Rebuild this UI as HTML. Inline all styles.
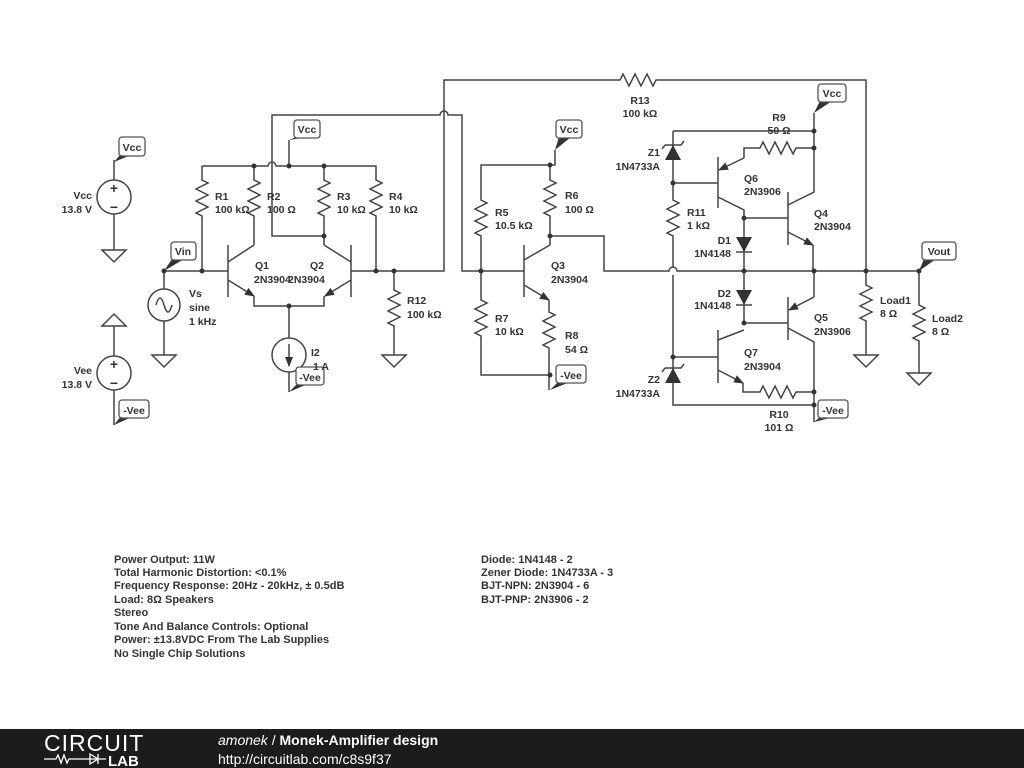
<!DOCTYPE html>
<html><head><meta charset="utf-8"><style>
html,body{margin:0;padding:0;background:#fff;}
svg{display:block;}
text{font-family:"Liberation Sans",sans-serif;font-weight:bold;font-size:10.5px;fill:#333;}
.w{fill:none;stroke:#444;stroke-width:1.5;}
.f{fill:#333;}
.lb{fill:#fff;stroke:#555;stroke-width:1.3;}
.n{font-size:11px;font-weight:bold;}
</style></head><body>
<svg width="1024" height="768" viewBox="0 0 1024 768" xmlns="http://www.w3.org/2000/svg">
<defs>
<marker id="ar" markerWidth="10" markerHeight="8" refX="9" refY="4" orient="auto" markerUnits="userSpaceOnUse"><path d="M0,0 L10,4 L0,8 z" fill="#333"/></marker>
</defs>
<g class="w">
<path d="M114,160 V180 M114,214 V250"/>
<circle cx="114" cy="197" r="17"/>
<path d="M102,250 H126 L114,262 Z"/>
<path d="M102,326 H126 L114,314 Z M114,326 V356 M114,390 V425"/>
<circle cx="114" cy="373" r="17"/>
<circle cx="164" cy="305" r="16"/>
<path d="M164,271 V289 M164,321 V355 M152,355 H176 L164,367 Z"/>
<path d="M156,305 q4,-14 8,0 t8,0"/>
<path d="M164,271 H228"/>
<path d="M202,166 V180 l6,3 l-12,6 l12,6 l-12,6 l12,6 l-12,6 l6,3 V271"/>
<path d="M202,166 H268 a4,4 0 0 1 8,0 H376 V180 l6,3 l-12,6 l12,6 l-12,6 l12,6 l-12,6 l6,3 V271"/>
<path d="M254,166 V180 l6,3 l-12,6 l12,6 l-12,6 l12,6 l-12,6 l6,3 V245"/>
<path d="M324,166 V180 l6,3 l-12,6 l12,6 l-12,6 l12,6 l-12,6 l6,3 V245"/>
<path d="M289,140 V166"/>
<path d="M272,166 V236 H324 M272,166 V115 H440 a4,4 0 0 1 8,0 H462 V271 H524"/>
<path d="M228,245 V297 M228,262 L254,245"/>
<path d="M228,280 L254,296" marker-end="url(#ar)"/>
<path d="M254,296 V306 H324 V296"/>
<path d="M351,245 V297 M351,262 L324,245"/>
<path d="M351,280 L325,296" marker-end="url(#ar)"/>
<path d="M351,271 H444 V80 H620 l3,-6 l6,12 l6,-12 l6,12 l6,-12 l6,12 l3,-6 H866 V271"/>
<path d="M289,306 V338 M289,372 V392"/>
<circle cx="289" cy="355" r="17"/>
<path d="M289,344 V366" marker-end="url(#ar)"/>
<path d="M394,271 V290 l6,3 l-12,6 l12,6 l-12,6 l12,6 l-12,6 l6,3 V355 M382,355 H406 L394,367 Z"/>
<path d="M555,150 V165 H481 V200 l6,3 l-12,6 l12,6 l-12,6 l12,6 l-12,6 l6,3 V300 l6,3 l-12,6 l12,6 l-12,6 l12,6 l-12,6 l6,3 V375 H550"/>
<path d="M550,165 V180 l6,3 l-12,6 l12,6 l-12,6 l12,6 l-12,6 l6,3 V245"/>
<path d="M524,245 V297 M524,260 L550,245"/>
<path d="M524,285 L549,300" marker-end="url(#ar)"/>
<path d="M549,300 V312 l6,3 l-12,6 l12,6 l-12,6 l12,6 l-12,6 l6,3 V390"/>
<path d="M550,236 H604 V271 H669 a4,4 0 0 1 8,0 H919"/>
<path d="M673,131 H814 M814,113 V192 L788,205 M788,192 V245"/>
<path d="M788,232 L813,245" marker-end="url(#ar)"/>
<path d="M813,245 V271"/>
<path d="M744,158 V148 H760 l3,-6 l6,12 l6,-12 l6,12 l6,-12 l6,12 l3,-6 H814"/>
<path d="M744,158 L719,170" marker-end="url(#ar)"/>
<path d="M718,157 V208 M718,197 L744,210 V323 M744,218 H788"/>
<path d="M673,131 V200 l6,3 l-12,6 l12,6 l-12,6 l12,6 l-12,6 l6,3 V267 M673,275 V405 H814"/>
<path d="M673,183 H718 M673,357 H718"/>
<path d="M736,252 H752 M736,305 H752 M744,323 H788"/>
<path d="M788,297 V340"/>
<path d="M814,271 V297"/>
<path d="M814,297 L789,310" marker-end="url(#ar)"/>
<path d="M788,328 L814,342 V422"/>
<path d="M718,330 V383 M718,340 L744,330"/>
<path d="M718,370 L743,383" marker-end="url(#ar)"/>
<path d="M743,383 V392 H760 l3,-6 l6,12 l6,-12 l6,12 l6,-12 l6,12 l3,-6 H814"/>
<path d="M665,145 H681 l3,-4 M665,145 l-3,4"/>
<path d="M665,368 H681 l3,-4 M665,368 l-3,4"/>
<path d="M866,271 V285 l6,3 l-12,6 l12,6 l-12,6 l12,6 l-12,6 l6,3 V355 M854,355 H878 L866,367 Z"/>
<path d="M919,271 V305 l6,3 l-12,6 l12,6 l-12,6 l12,6 l-12,6 l6,3 V373 M907,373 H931 L919,385 Z"/>
</g>
<g class="f">
<polygon points="665,160 681,160 673,145"/>
<polygon points="665,383 681,383 673,368"/>
<polygon points="736,237 752,237 744,252"/>
<polygon points="736,290 752,290 744,305"/>
<circle cx="164" cy="271" r="2.5"/><circle cx="202" cy="271" r="2.5"/><circle cx="376" cy="271" r="2.5"/><circle cx="394" cy="271" r="2.5"/>
<circle cx="254" cy="166" r="2.5"/><circle cx="289" cy="166" r="2.5"/><circle cx="324" cy="166" r="2.5"/><circle cx="324" cy="236" r="2.5"/><circle cx="289" cy="306" r="2.5"/>
<circle cx="550" cy="165" r="2.5"/><circle cx="550" cy="236" r="2.5"/><circle cx="481" cy="271" r="2.5"/><circle cx="550" cy="375" r="2.5"/>
<circle cx="814" cy="131" r="2.5"/><circle cx="814" cy="148" r="2.5"/><circle cx="673" cy="183" r="2.5"/><circle cx="744" cy="218" r="2.5"/><circle cx="744" cy="271" r="2.5"/><circle cx="744" cy="323" r="2.5"/><circle cx="673" cy="357" r="2.5"/><circle cx="814" cy="271" r="2.5"/><circle cx="866" cy="271" r="2.5"/><circle cx="919" cy="271" r="2.5"/><circle cx="814" cy="392" r="2.5"/><circle cx="814" cy="405" r="2.5"/>
<polygon points="114,162 120,155 131,155"/>
<polygon points="164,271 172,259 184,259"/>
<polygon points="289,140 296,137 308,137"/>
<polygon points="289,392 298,383 310,383"/>
<polygon points="114,425 121,416 134,416"/>
<polygon points="555,150 559,137 571,137"/>
<polygon points="550,390 558,382 570,382"/>
<polygon points="814,113 820,101 832,101"/>
<polygon points="814,422 820,417 834,417"/>
<polygon points="919,271 924,259 936,259"/>
</g>
<g class="lb">
<rect x="119" y="137" width="26" height="19" rx="3"/>
<rect x="171" y="242" width="25" height="18" rx="3"/>
<rect x="294" y="120" width="26" height="18" rx="3"/>
<rect x="296" y="367" width="28" height="18" rx="3"/>
<rect x="119" y="400" width="30" height="18" rx="3"/>
<rect x="556" y="120" width="26" height="18" rx="3"/>
<rect x="556" y="365" width="30" height="18" rx="3"/>
<rect x="818" y="84" width="28" height="18" rx="3"/>
<rect x="818" y="400" width="30" height="18" rx="3"/>
<rect x="922" y="242" width="34" height="18" rx="3"/>
</g>
<g text-anchor="middle">
<text x="132" y="151">Vcc</text><text x="183" y="255">Vin</text><text x="307" y="133">Vcc</text><text x="310" y="381">-Vee</text><text x="134" y="414">-Vee</text><text x="569" y="133">Vcc</text><text x="571" y="379">-Vee</text><text x="832" y="97">Vcc</text><text x="833" y="414">-Vee</text><text x="939" y="255">Vout</text>
<text x="640" y="104">R13</text><text x="640" y="117">100 kΩ</text>
<text x="779" y="121">R9</text><text x="779" y="134">50 Ω</text>
<text x="779" y="418">R10</text><text x="779" y="431">101 Ω</text>
<text x="114" y="193" style="font-size:14px">+</text><text x="114" y="212" style="font-size:14px">−</text>
<text x="114" y="369" style="font-size:14px">+</text><text x="114" y="388" style="font-size:14px">−</text>
</g>
<g text-anchor="end">
<text x="92" y="199">Vcc</text><text x="92" y="213">13.8 V</text>
<text x="92" y="374">Vee</text><text x="92" y="388">13.8 V</text>
<text x="660" y="156">Z1</text><text x="660" y="170">1N4733A</text>
<text x="660" y="383">Z2</text><text x="660" y="397">1N4733A</text>
<text x="731" y="244">D1</text><text x="731" y="257">1N4148</text>
<text x="731" y="297">D2</text><text x="731" y="309">1N4148</text>
</g>
<g>
<text x="189" y="297">Vs</text><text x="189" y="311">sine</text><text x="189" y="325">1 kHz</text>
<text x="215" y="200">R1</text><text x="215" y="213">100 kΩ</text>
<text x="267" y="200">R2</text><text x="267" y="213">100 Ω</text>
<text x="337" y="200">R3</text><text x="337" y="213">10 kΩ</text>
<text x="389" y="200">R4</text><text x="389" y="213">10 kΩ</text>
<text x="255" y="269">Q1</text><text x="254" y="283">2N3904</text>
<text x="310" y="269">Q2</text><text x="288" y="283">2N3904</text>
<text x="311" y="356">I2</text><text x="313" y="370">1 A</text>
<text x="407" y="304">R12</text><text x="407" y="318">100 kΩ</text>
<text x="495" y="216">R5</text><text x="495" y="229">10.5 kΩ</text>
<text x="565" y="199">R6</text><text x="565" y="213">100 Ω</text>
<text x="551" y="269">Q3</text><text x="551" y="283">2N3904</text>
<text x="495" y="322">R7</text><text x="495" y="335">10 kΩ</text>
<text x="565" y="339">R8</text><text x="565" y="353">54 Ω</text>
<text x="687" y="216">R11</text><text x="687" y="229">1 kΩ</text>
<text x="744" y="182">Q6</text><text x="744" y="195">2N3906</text>
<text x="814" y="217">Q4</text><text x="814" y="230">2N3904</text>
<text x="814" y="321">Q5</text><text x="814" y="335">2N3906</text>
<text x="744" y="356">Q7</text><text x="744" y="370">2N3904</text>
<text x="880" y="304">Load1</text><text x="880" y="317">8 Ω</text>
<text x="932" y="322">Load2</text><text x="932" y="335">8 Ω</text>
</g>
<g>
<text class="n" x="114" y="563">Power Output: 11W</text>
<text class="n" x="114" y="576">Total Harmonic Distortion: &lt;0.1%</text>
<text class="n" x="114" y="589">Frequency Response: 20Hz - 20kHz, ± 0.5dB</text>
<text class="n" x="114" y="603">Load: 8Ω Speakers</text>
<text class="n" x="114" y="616">Stereo</text>
<text class="n" x="114" y="630">Tone And Balance Controls: Optional</text>
<text class="n" x="114" y="643">Power: ±13.8VDC From The Lab Supplies</text>
<text class="n" x="114" y="657">No Single Chip Solutions</text>
<text class="n" x="481" y="563">Diode: 1N4148 - 2</text>
<text class="n" x="481" y="576">Zener Diode: 1N4733A - 3</text>
<text class="n" x="481" y="589">BJT-NPN: 2N3904 - 6</text>
<text class="n" x="481" y="603">BJT-PNP: 2N3906 - 2</text>
</g>
<rect x="0" y="729" width="1024" height="39" fill="#1c1c1c"/>
<text x="44" y="751" style="font-size:23px;font-weight:normal;fill:#fff;letter-spacing:1px">CIRCUIT</text>
<path d="M44,759 H56 l2,-4 l3,8 l3,-8 l3,8 l2,-4 H98 M98,754 V764 M90,754 L98,759 L90,764 Z M98,759 H106" fill="none" stroke="#fff" stroke-width="1.3"/>
<text x="108" y="766" style="font-size:15px;fill:#fff">LAB</text>
<text x="218" y="745" style="font-size:14px;font-weight:normal;fill:#fff;font-style:italic">amonek <tspan style="font-style:normal">/</tspan> <tspan style="font-style:normal;font-weight:bold">Monek-Amplifier design</tspan></text>
<text x="218" y="764" style="font-size:14px;font-weight:normal;fill:#fff">http://circuitlab.com/c8s9f37</text>
</svg>
</body></html>
